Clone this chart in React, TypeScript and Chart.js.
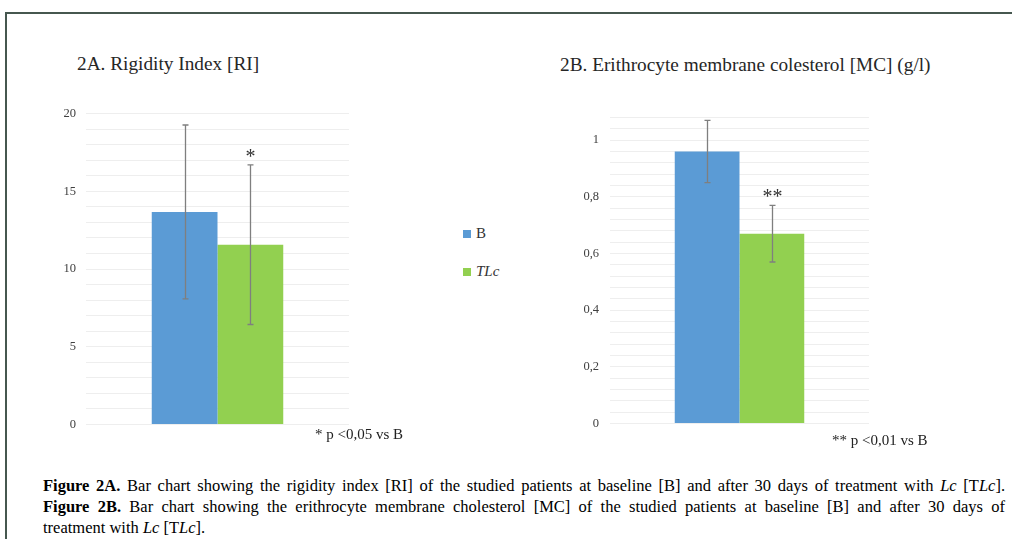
import React, { useEffect, useRef } from "react";
import { Chart, registerables } from "chart.js";

Chart.register(...registerables);

const categories = ["Group"];
const seriesNames = ["B", "TLc"];
const seriesColors = ["#5b9bd5", "#92d050"];

const riMeans = [13.67, 11.56];
const riErrors = [5.59, 5.13];
const riMarks = ["", "*"];

const mcMeans = [0.96, 0.67];
const mcErrors = [0.11, 0.1];
const mcMarks = ["", "**"];

const SERIF = "'Liberation Serif', 'Times New Roman', serif";

const errorBarPlugin = {
  id: "errorBars",
  afterDatasetsDraw(chart: any, _args: any, opts: any) {
    const ctx = chart.ctx;
    const yScale = chart.scales.y;
    const errs: number[] = opts.errors || [];
    const marks: string[] = opts.marks || [];
    chart.data.datasets.forEach((ds: any, i: number) => {
      const meta = chart.getDatasetMeta(i);
      meta.data.forEach((bar: any, j: number) => {
        const v = ds.data[j];
        const e = errs[i];
        const x = Math.round(bar.x) + 0.5;
        const yT = yScale.getPixelForValue(v + e);
        const yB = yScale.getPixelForValue(v - e);
        ctx.save();
        ctx.strokeStyle = "#7f7f7f";
        ctx.lineWidth = 1.3;
        ctx.beginPath();
        ctx.moveTo(x, yT);
        ctx.lineTo(x, yB);
        ctx.moveTo(x - 3, yT);
        ctx.lineTo(x + 3, yT);
        ctx.moveTo(x - 3, yB);
        ctx.lineTo(x + 3, yB);
        ctx.stroke();
        const m = marks[i] || "";
        if (m) {
          ctx.fillStyle = "#333333";
          ctx.font = `20px ${SERIF}`;
          ctx.textAlign = "center";
          ctx.textBaseline = "alphabetic";
          const n = m.length;
          const gap = 10;
          for (let k = 0; k < n; k++) {
            const sx = x + (k - (n - 1) / 2) * gap;
            ctx.fillText("*", sx, yT - 2);
          }
        }
        ctx.restore();
      });
    });
  },
};

function makeConfig(
  means: number[],
  errors: number[],
  marks: string[],
  max: number,
  step: number,
  labelEvery: number,
  axisWidth: number,
  pad: { top: number; bottom: number; right: number },
  tickPad: number
): any {
  return {
    type: "bar",
    data: {
      labels: categories,
      datasets: seriesNames.map((name, i) => ({
        label: name,
        data: [means[i]],
        backgroundColor: seriesColors[i],
        borderWidth: 0,
        categoryPercentage: 0.5,
        barPercentage: 1,
      })),
    },
    options: {
      animation: false,
      responsive: false,
      maintainAspectRatio: false,
      layout: { padding: { top: pad.top, bottom: pad.bottom, right: pad.right, left: 0 } },
      plugins: {
        legend: { display: false },
        tooltip: { enabled: false },
        errorBars: { errors, marks },
      },
      scales: {
        x: { display: false },
        y: {
          min: 0,
          max,
          afterFit: (s: any) => {
            s.width = axisWidth;
          },
          border: { display: false },
          grid: { color: "#eeeeee", lineWidth: 1, drawTicks: false },
          ticks: {
            stepSize: step,
            autoSkip: false,
            padding: tickPad,
            color: "#404040",
            font: { family: SERIF, size: 12.5 },
            callback: (v: number) => {
              const r = Math.round(v / step);
              const every = Math.round(labelEvery / step);
              if (r % every !== 0) return "";
              const val = Math.round(v * 1000) / 1000;
              return String(val).replace(".", ",");
            },
          },
        },
      },
    },
    plugins: [errorBarPlugin],
  };
}

function BarChart(props: { config: any; style: React.CSSProperties; w: number; h: number }) {
  const ref = useRef<HTMLCanvasElement | null>(null);
  useEffect(() => {
    if (!ref.current) return;
    const chart = new Chart(ref.current, props.config);
    return () => chart.destroy();
  }, []);
  return (
    <canvas
      ref={ref}
      width={props.w}
      height={props.h}
      style={{ position: "absolute", width: props.w, height: props.h, ...props.style }}
    />
  );
}

export default function App() {
  const leftCfg = makeConfig(riMeans, riErrors, riMarks, 20, 1, 5, 56, { top: 10, bottom: 7, right: 11 }, 10);
  const rightCfg = makeConfig(mcMeans, mcErrors, mcMarks, 1.08, 0.04, 0.2, 60, { top: 15, bottom: 7, right: 11 }, 11);
  const text: React.CSSProperties = { position: "absolute", fontFamily: SERIF, whiteSpace: "nowrap" };
  const caption: React.CSSProperties = {
    position: "absolute",
    left: 43,
    width: 962,
    fontSize: 16.5,
    lineHeight: "21px",
    color: "#000",
    textAlign: "justify",
    textAlignLast: "justify",
    fontFamily: SERIF,
  };
  return (
    <div
      style={{
        position: "fixed",
        left: 0,
        top: 0,
        width: 1012,
        height: 539,
        background: "#ffffff",
        overflow: "hidden",
        fontFamily: SERIF,
      }}
    >
      <div
        style={{
          position: "absolute",
          left: 5,
          top: 12,
          width: 1012,
          height: 540,
          borderTop: "2px solid #46574f",
          borderLeft: "2px solid #46574f",
        }}
      />
      <div style={{ ...text, left: 77, top: 53, fontSize: 19.3, color: "#262626" }}>2A. Rigidity Index [RI]</div>
      <div style={{ ...text, left: 560, top: 54, fontSize: 19.3, color: "#262626" }}>
        2B. Erithrocyte membrane colesterol [MC] (g/l)
      </div>

      <BarChart config={leftCfg} w={330} h={346} style={{ left: 30, top: 96 }} />
      <BarChart config={rightCfg} w={330} h={343} style={{ left: 550, top: 99 }} />

      <div style={{ position: "absolute", left: 463, top: 230, width: 8, height: 8, background: seriesColors[0] }} />
      <div style={{ ...text, left: 476, top: 225, fontSize: 15, color: "#333" }}>{seriesNames[0]}</div>
      <div style={{ position: "absolute", left: 463, top: 268, width: 8, height: 8, background: seriesColors[1] }} />
      <div style={{ ...text, left: 476, top: 263, fontSize: 15, fontStyle: "italic", color: "#333" }}>
        {seriesNames[1]}
      </div>

      <div style={{ ...text, left: 315, top: 426, fontSize: 15, color: "#222" }}>* p &lt;0,05 vs B</div>
      <div style={{ ...text, left: 832, top: 432, fontSize: 15, color: "#222" }}>** p &lt;0,01 vs B</div>

      <div style={{ ...caption, top: 475 }}>
        <b>Figure 2A.</b> Bar chart showing the rigidity index [RI] of the studied patients at baseline [B] and after 30
        days of treatment with <i>Lc</i> [T<i>Lc</i>].
      </div>
      <div style={{ ...caption, top: 496 }}>
        <b>Figure 2B.</b> Bar chart showing the erithrocyte membrane cholesterol [MC] of the studied patients at baseline
        [B] and after 30 days of
      </div>
      <div style={{ ...caption, top: 517, textAlign: "left", textAlignLast: "left" }}>
        treatment with <i>Lc</i> [T<i>Lc</i>].
      </div>
    </div>
  );
}
